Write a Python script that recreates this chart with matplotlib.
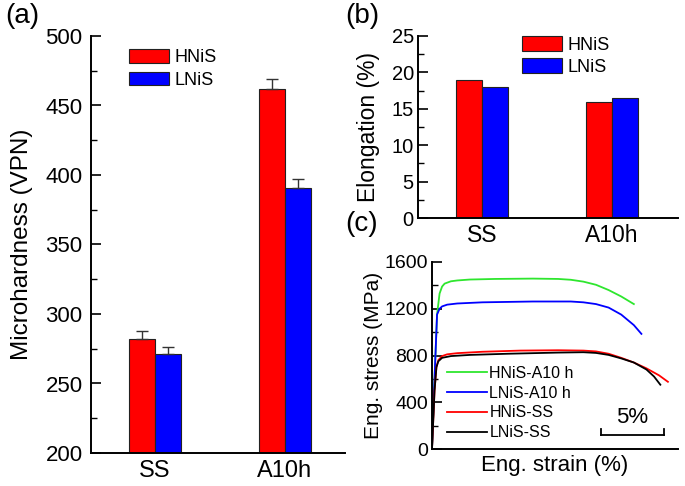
import matplotlib
matplotlib.use("Agg")
import matplotlib.pyplot as plt
from matplotlib.ticker import MultipleLocator

plt.rcParams['font.family'] = ['Liberation Sans', 'DejaVu Sans']

# ---- data ----
categories = ["SS", "A10h"]
series = ["HNiS", "LNiS"]
hard_hnis = [282, 462]
hard_lnis = [271, 391]
hard_err_hnis = [6, 7]
hard_err_lnis = [5, 6]
elong_hnis = [19.0, 16.0]
elong_lnis = [18.0, 16.5]

strain_hnis_a10 = [0, 0.2, 0.4, 0.6, 0.8, 1.0, 1.5, 2, 3, 5, 8, 10, 11, 12, 13, 14, 15, 16.0]
stress_hnis_a10 = [0, 600, 1150, 1330, 1390, 1415, 1435, 1442, 1450, 1455, 1458, 1455, 1448, 1432, 1405, 1360, 1305, 1240]
strain_lnis_a10 = [0, 0.2, 0.4, 0.6, 0.8, 1.2, 2, 4, 8, 11, 12, 13, 14, 15, 16, 16.6]
stress_lnis_a10 = [0, 600, 1150, 1200, 1220, 1235, 1245, 1255, 1262, 1262, 1255, 1240, 1210, 1150, 1060, 985]
strain_hnis_ss = [0, 0.2, 0.35, 0.5, 0.8, 1.2, 2, 4, 7, 10, 12, 13, 14, 15, 16, 17, 18, 18.7]
stress_hnis_ss = [0, 500, 700, 760, 795, 810, 820, 832, 842, 845, 842, 835, 815, 780, 740, 690, 630, 575]
strain_lnis_ss = [0, 0.2, 0.35, 0.5, 0.8, 1.5, 3, 6, 10, 12, 13, 14, 15, 16, 17, 17.6, 18.1]
stress_lnis_ss = [0, 500, 700, 750, 780, 795, 805, 815, 825, 828, 822, 805, 775, 740, 680, 620, 550]
curve_labels = ["HNiS-A10 h", "LNiS-A10 h", "HNiS-SS", "LNiS-SS"]
scalebar_strain = [13.4, 18.4]
scalebar_stress = 120
scalebar_label = "5%"

RED = "#ff0000"
BLUE = "#0000ff"
GREEN = "#2ee62e"
EDGE = "#222222"

fig = plt.figure(figsize=(6.85, 4.86), dpi=100)

def style_axes(ax, ysize, xsize, ypad):
    for s in ["top", "right"]:
        ax.spines[s].set_visible(False)
    for s in ["left", "bottom"]:
        ax.spines[s].set_linewidth(1.4)
    ax.tick_params(axis="y", which="major", direction="in", length=7, width=1.2, labelsize=ysize, pad=ypad)
    ax.tick_params(axis="y", which="minor", direction="in", length=4, width=1.0)
    ax.tick_params(axis="x", length=0, labelsize=xsize, pad=6)

x = [0, 1]
w = 0.2
ekw = dict(ecolor="#333333", elinewidth=1, capsize=4, capthick=1)

# ---- (a) ----
axa = fig.add_axes([91/685, 33/486, 254/685, 417/486])
axa.bar([i - w/2 for i in x], hard_hnis, width=w, color=RED, edgecolor=EDGE, linewidth=0.8,
        yerr=[[0, 0], hard_err_hnis], error_kw=ekw, label=series[0])
axa.bar([i + w/2 for i in x], hard_lnis, width=w, color=BLUE, edgecolor=EDGE, linewidth=0.8,
        yerr=[[0, 0], hard_err_lnis], error_kw=ekw, label=series[1])
axa.set_ylim(200, 500)
axa.set_xlim(-0.492, 1.462)
axa.yaxis.set_major_locator(MultipleLocator(50))
axa.yaxis.set_minor_locator(MultipleLocator(25))
axa.set_xticks(x)
axa.set_xticklabels(categories)
axa.set_ylabel("Microhardness (VPN)", fontsize=17.5, labelpad=9)
style_axes(axa, 16, 17, 6)
axa.tick_params(axis="x", pad=5)
axa.legend(loc="upper left", bbox_to_anchor=(0.15, 0.969), frameon=False, fontsize=13,
           handlelength=2.2, handleheight=0.8, labelspacing=0.3, borderpad=0, borderaxespad=0,
           handletextpad=0.3)
fig.text(22/685, 1 - 16/486, "(a)", fontsize=20, ha="center", va="center")

# ---- (b) ----
axb = fig.add_axes([418/685, 268/486, 260/685, 182/486])
axb.bar([i - w/2 for i in x], elong_hnis, width=w, color=RED, edgecolor=EDGE, linewidth=0.8, label=series[0])
axb.bar([i + w/2 for i in x], elong_lnis, width=w, color=BLUE, edgecolor=EDGE, linewidth=0.8, label=series[1])
axb.set_ylim(0, 25)
axb.set_xlim(-0.492, 1.508)
axb.yaxis.set_major_locator(MultipleLocator(5))
axb.yaxis.set_minor_locator(MultipleLocator(2.5))
axb.set_xticks(x)
axb.set_xticklabels(categories)
axb.set_ylabel("Elongation (%)", fontsize=16.5, labelpad=8)
style_axes(axb, 14.5, 16.5, 3)
axb.tick_params(axis="x", pad=4)
axb.legend(loc="upper left", bbox_to_anchor=(0.4, 1.0), frameon=False, fontsize=13,
           handlelength=2.2, handleheight=0.9, labelspacing=0.25, borderpad=0, borderaxespad=0,
           handletextpad=0.3)
fig.text(362/685, 1 - 16/486, "(b)", fontsize=20, ha="center", va="center")

# ---- (c) ----
axc = fig.add_axes([432/685, 37/486, 246/685, 187/486])
axc.plot(strain_hnis_a10, stress_hnis_a10, color=GREEN, lw=1.3, label=curve_labels[0])
axc.plot(strain_lnis_a10, stress_lnis_a10, color=BLUE, lw=1.3, label=curve_labels[1])
axc.plot(strain_hnis_ss, stress_hnis_ss, color=RED, lw=1.3, label=curve_labels[2])
axc.plot(strain_lnis_ss, stress_lnis_ss, color="black", lw=1.3, label=curve_labels[3])
axc.set_xlim(0, 19.5)
axc.set_ylim(0, 1600)
axc.yaxis.set_major_locator(MultipleLocator(400))
axc.yaxis.set_minor_locator(MultipleLocator(200))
axc.set_xticks([])
axc.set_xlabel("Eng. strain (%)", fontsize=16, labelpad=4)
axc.set_ylabel("Eng. stress (MPa)", fontsize=15, labelpad=1)
style_axes(axc, 14, 16, 3)
axc.legend(loc="upper left", bbox_to_anchor=(0.061, 0.445), frameon=False, fontsize=11.5,
           handlelength=2.5, labelspacing=0.3, borderpad=0, borderaxespad=0, handletextpad=0.15)
# scale bar
axc.plot(scalebar_strain, [scalebar_stress, scalebar_stress], color="black", lw=1.3)
for sx in scalebar_strain:
    axc.plot([sx, sx], [scalebar_stress, scalebar_stress + 50], color="black", lw=1.3)
axc.text(sum(scalebar_strain) / 2, scalebar_stress + 60, scalebar_label, fontsize=16,
         ha="center", va="bottom")
fig.text(362/685, 1 - 224/486, "(c)", fontsize=20, ha="center", va="center")

fig.savefig("out.png", dpi=100)
